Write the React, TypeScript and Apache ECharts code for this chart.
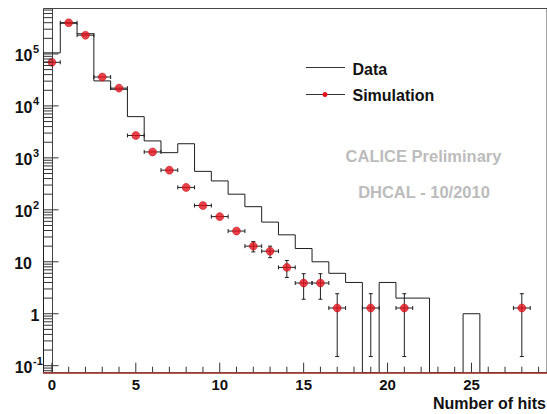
import React, { useEffect, useRef } from "react";
import * as echarts from "echarts";

// Axis ranges (x in hits, y logarithmic in entries)
const X_MIN = -0.5;
const X_MAX = 29.5;
const Y_MIN = 0.0733;
const Y_MAX = 7.5e5;

// Bin centres: number of hits
const hitBins = [
  0, 1, 2, 3, 4, 5, 6, 7, 8, 9, 10, 11, 12, 13, 14, 15, 16, 17, 18, 19, 20, 21,
  22, 23, 24, 25, 26, 27, 28, 29,
];

// Measured events per bin
const dataCounts = [
  105000, 390000, 245000, 30300, 20900, 6220, 2120, 1260, 1870, 550, 360, 200,
  115, 58, 33, 18, 10, 6, 4, 0, 4, 2, 2, 0, 0, 1, 0, 0, 0, 0,
];

// Simulated events per bin (normalised) and their statistical errors
const simValues = [
  69000, 400000, 230000, 36000, 22000, 2700, 1300, 580, 270, 121, 74, 39, 20,
  16, 7.8, 3.9, 3.9, 1.29, 0, 1.29, 0, 1.29, 0, 0, 0, 0, 0, 0, 1.29, 0,
];
const simErrors = [
  263, 632, 480, 190, 148, 52, 36, 24, 16.4, 11, 8.6, 6.2, 4.5, 4.0, 2.8, 2.0,
  2.0, 1.14, 0, 1.14, 0, 1.14, 0, 0, 0, 0, 0, 0, 1.14, 0,
];

// Tick labels
const xLabelValues = [0, 5, 10, 15, 20, 25];
const xTickLabels = ["0", "5", "10", "15", "20", "25"];
const yLabelDecades = [-1, 0, 1, 2, 3, 4, 5];
const yTickBases = ["10", "1", "10", "10", "10", "10", "10"];
const yTickExps = ["-1", "", "", "2", "3", "4", "5"];

const FONT = "'Liberation Sans', Arial, Helvetica, sans-serif";
const INK = "#1e1e1e";
const RED = "#e3121b";

export default function App() {
  const ref = useRef<HTMLDivElement>(null);

  useEffect(() => {
    if (!ref.current) return;
    const chart = echarts.init(ref.current, undefined, { renderer: "svg" });

    const level = (v: number) => (v > 0 ? v : Y_MIN);

    // Step outline of the measured histogram
    const histData = hitBins.map((b, i) => [
      b,
      level(dataCounts[i]),
      i === 0 ? Y_MIN : level(dataCounts[i - 1]),
    ]);

    const simIdx = hitBins.map((_, i) => i).filter((i) => simValues[i] > 0);
    const simPoints = simIdx.map((i) => [hitBins[i], simValues[i]]);
    const simBars = simIdx.map((i) => [hitBins[i], simValues[i], simErrors[i]]);

    // Axis ticks (drawn inside the frame, ROOT style)
    const xTicks: number[][] = [];
    for (let v = 0; v <= 29; v++) xTicks.push([v, Y_MIN, v % 5 === 0 ? 10 : 6]);
    const yTicks: number[][] = [];
    for (let k = -2; k <= 5; k++) {
      for (let m = 1; m <= 9; m++) {
        const v = m * Math.pow(10, k);
        if (v >= Y_MIN && v <= Y_MAX) yTicks.push([X_MIN, v, m === 1 ? 15 : 9]);
      }
    }
    const yLabels = yLabelDecades.map((k, i) => [X_MIN, Math.pow(10, k), i]);
    const xLabels = xLabelValues.map((v, i) => [v, Y_MIN, i]);

    const option: any = {
      animation: false,
      backgroundColor: "#ffffff",
      grid: {
        left: 43.5,
        top: 8.5,
        width: 508.5,
        height: 364.2,
        show: true,
        borderColor: "#444",
        borderWidth: 1,
        containLabel: false,
      },
      xAxis: {
        type: "value",
        min: X_MIN,
        max: X_MAX,
        z: 10,
        axisLine: { show: true, onZero: false, lineStyle: { color: "#a0302a", width: 1.5 } },
        axisTick: { show: false },
        axisLabel: { show: false },
        splitLine: { show: false },
      },
      yAxis: {
        type: "log",
        logBase: 10,
        min: Y_MIN,
        max: Y_MAX,
        axisLine: { show: true, lineStyle: { color: "#444" } },
        axisTick: { show: false },
        axisLabel: { show: false },
        splitLine: { show: false },
      },
      series: [
        {
          type: "custom",
          name: "Data",
          clip: true,
          data: histData,
          z: 2,
          renderItem: (_p: any, api: any) => {
            const x = api.value(0);
            const y = api.value(1);
            const yPrev = api.value(2);
            const a = api.coord([x - 0.5, yPrev]);
            const b = api.coord([x - 0.5, y]);
            const c = api.coord([x + 0.5, y]);
            return {
              type: "polyline",
              shape: { points: [a, b, c] },
              style: { stroke: INK, lineWidth: 1, fill: null },
            };
          },
        },
        {
          type: "custom",
          name: "SimulationErrors",
          data: simBars,
          z: 3,
          renderItem: (_p: any, api: any) => {
            const x = api.value(0);
            const y = api.value(1);
            const e = api.value(2);
            const l = api.coord([x - 0.5, y]);
            const r = api.coord([x + 0.5, y]);
            const t = api.coord([x, y + e]);
            const bt = api.coord([x, Math.max(y - e, Y_MIN)]);
            const st = { stroke: INK, lineWidth: 1 };
            const children: any[] = [
              { type: "line", shape: { x1: l[0], y1: l[1], x2: r[0], y2: r[1] }, style: st },
              { type: "line", shape: { x1: l[0], y1: l[1] - 2, x2: l[0], y2: l[1] + 2 }, style: st },
              { type: "line", shape: { x1: r[0], y1: r[1] - 2, x2: r[0], y2: r[1] + 2 }, style: st },
            ];
            if (bt[1] - t[1] > 9) {
              children.push(
                { type: "line", shape: { x1: t[0], y1: t[1], x2: bt[0], y2: bt[1] }, style: st },
                { type: "line", shape: { x1: t[0] - 2, y1: t[1], x2: t[0] + 2, y2: t[1] }, style: st },
                { type: "line", shape: { x1: bt[0] - 2, y1: bt[1], x2: bt[0] + 2, y2: bt[1] }, style: st }
              );
            }
            return { type: "group", children };
          },
        },
        {
          type: "scatter",
          name: "Simulation",
          data: simPoints,
          symbol: "circle",
          symbolSize: 8,
          z: 4,
          itemStyle: { color: RED, borderColor: "#c20f16", borderWidth: 0.6 },
        },
        {
          type: "custom",
          name: "xTicks",
          data: xTicks,
          z: 5,
          renderItem: (_p: any, api: any) => {
            const p = api.coord([api.value(0), api.value(1)]);
            const len = api.value(2);
            return {
              type: "line",
              shape: { x1: p[0], y1: p[1], x2: p[0], y2: p[1] - len },
              style: { stroke: "#333", lineWidth: 1 },
            };
          },
        },
        {
          type: "custom",
          name: "yTicks",
          data: yTicks,
          z: 5,
          renderItem: (_p: any, api: any) => {
            const p = api.coord([api.value(0), api.value(1)]);
            const len = api.value(2);
            return {
              type: "line",
              shape: { x1: p[0], y1: p[1], x2: p[0] + len, y2: p[1] },
              style: { stroke: "#333", lineWidth: 1 },
            };
          },
        },
        {
          type: "custom",
          name: "xLabels",
          data: xLabels,
          z: 5,
          renderItem: (_p: any, api: any) => {
            const p = api.coord([api.value(0), api.value(1)]);
            const i = api.value(2);
            return {
              type: "text",
              x: p[0],
              y: p[1] + 12,
              style: {
                text: xTickLabels[i],
                fontFamily: FONT,
                fontWeight: "bold",
                fontSize: 15,
                fill: "#111",
                align: "center",
                verticalAlign: "middle",
              },
            };
          },
        },
        {
          type: "custom",
          name: "yLabels",
          data: yLabels,
          z: 5,
          renderItem: (_p: any, api: any) => {
            const p = api.coord([api.value(0), api.value(1)]);
            const i = api.value(2);
            const base = yTickBases[i];
            const exp = yTickExps[i];
            const children: any[] = [];
            if (exp) {
              children.push(
                {
                  type: "text",
                  x: 32.5,
                  y: p[1] + 1.5,
                  style: {
                    text: base, fontFamily: FONT, fontWeight: "bold", fontSize: 16,
                    fill: "#111", align: "right", verticalAlign: "middle",
                  },
                },
                {
                  type: "text",
                  x: 33,
                  y: p[1] - 5,
                  style: {
                    text: exp, fontFamily: FONT, fontWeight: "bold", fontSize: 11,
                    fill: "#111", align: "left", verticalAlign: "middle",
                  },
                }
              );
            } else {
              children.push({
                type: "text",
                x: base === "1" ? 39.5 : 32,
                y: p[1] + 1.5,
                style: {
                  text: base, fontFamily: FONT, fontWeight: "bold", fontSize: 16,
                  fill: "#111", align: "right", verticalAlign: "middle",
                },
              });
            }
            return { type: "group", children };
          },
        },
      ],
      graphic: [
        // legend
        { type: "line", shape: { x1: 306, y1: 67.5, x2: 345, y2: 67.5 }, style: { stroke: "#333", lineWidth: 1 } },
        {
          type: "text", x: 352.5, y: 69,
          style: { text: "Data", fontFamily: FONT, fontWeight: "bold", fontSize: 16, fill: "#111", align: "left", verticalAlign: "middle" },
        },
        { type: "line", shape: { x1: 306, y1: 94.5, x2: 345, y2: 94.5 }, style: { stroke: "#333", lineWidth: 1 } },
        { type: "circle", shape: { cx: 325, cy: 94.5, r: 2.5 }, style: { fill: RED } },
        {
          type: "text", x: 352.5, y: 95,
          style: { text: "Simulation", fontFamily: FONT, fontWeight: "bold", fontSize: 16, fill: "#111", align: "left", verticalAlign: "middle" },
        },
        // annotations
        {
          type: "text", x: 423.5, y: 156,
          style: { text: "CALICE Preliminary", fontFamily: FONT, fontWeight: "bold", fontSize: 16.5, fill: "#bcbcbc", align: "center", verticalAlign: "middle" },
        },
        {
          type: "text", x: 424, y: 192,
          style: { text: "DHCAL - 10/2010", fontFamily: FONT, fontWeight: "bold", fontSize: 16.5, fill: "#bcbcbc", align: "center", verticalAlign: "middle" },
        },
        // x axis title
        {
          type: "text", x: 433, y: 403.5,
          style: { text: "Number of hits", fontFamily: FONT, fontWeight: "bold", fontSize: 16, fill: "#111", align: "left", verticalAlign: "middle" },
        },
      ],
    };

    chart.setOption(option);
    return () => chart.dispose();
  }, []);

  return (
    <div
      ref={ref}
      style={{ position: "fixed", left: 0, top: 0, width: 547, height: 414, background: "#fff" }}
    />
  );
}
